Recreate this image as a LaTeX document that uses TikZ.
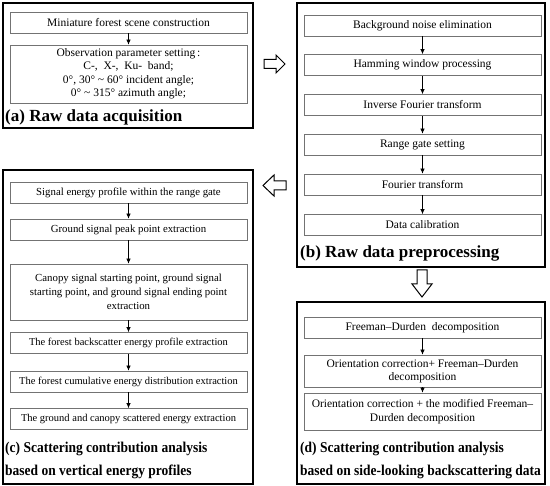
\documentclass[tikz,border=0pt]{standalone}
\usepackage{fontspec}
\setmainfont{Liberation Serif}
\usetikzlibrary{arrows.meta}
\newcommand{\squeeze}[1]{\scalebox{0.9}[1]{#1}}

\begin{document}
\begin{tikzpicture}[x=1pt,y=-1pt,
	panel/.style={draw=black, line width=1.3pt},
	procbox/.style={draw=black!55, line width=0.7pt, minimum width=237pt, minimum height=21pt,
		align=center, inner sep=1pt, font=\fontsize{11.5}{13.5}\selectfont},
	smallbox/.style={procbox, font=\fontsize{10.8}{14}\selectfont},
	tinybox/.style={procbox, font=\fontsize{10.5}{13.5}\selectfont},
	flow/.style={-{Latex[length=5pt,width=4.5pt]}, line width=0.7pt},
	paneltitle/.style={anchor=west, align=left, inner sep=0pt, font=\fontsize{17}{19}\selectfont\bfseries},
	paneltitletwo/.style={anchor=north west, align=left, inner sep=0pt, font=\fontsize{15}{23}\selectfont\bfseries},
	hollow/.style={draw=black, line width=1pt, fill=white, line join=miter}]
	%%%%% START %%%%%
	
	\useasboundingbox (0,0) rectangle (550,486);
	
	% (a)
	\draw[panel] (3,3) rectangle (253,128);
	\node[procbox] (acq1) at (128.5,22.5) {Miniature forest scene construction};
	\node[procbox, minimum height=58pt] (acq2) at (128.5,74) {Observation parameter setting\,:\\C-,\ \ X-,\ \ Ku-\ \ band;\\0°, 30° \textasciitilde{} 60° incident angle;\\0° \textasciitilde{} 315° azimuth angle;};
	\draw[flow] (acq1) -- (acq2);
	\node[paneltitle] (acqtitle) at (5,117) {(a) Raw data acquisition};
	
	% (b)
	\draw[panel] (297,3) rectangle (545,267);
	\node[procbox] (pre1) at (422.5,25.5) {Background noise elimination};
	\node[procbox] (pre2) at (422.5,65) {Hamming window processing};
	\node[procbox] (pre3) at (422.5,105) {Inverse Fourier transform};
	\node[procbox] (pre4) at (422.5,144.5) {Range gate setting};
	\node[procbox] (pre5) at (422.5,184.5) {Fourier transform};
	\node[procbox] (pre6) at (422.5,225) {Data calibration};
	\draw[flow] (pre1) -- (pre2);
	\draw[flow] (pre2) -- (pre3);
	\draw[flow] (pre3) -- (pre4);
	\draw[flow] (pre4) -- (pre5);
	\draw[flow] (pre5) -- (pre6);
	\node[paneltitle] (pretitle) at (300,253) {(b) Raw data preprocessing};
	
	% (c)
	\draw[panel] (3,170) rectangle (253,484);
	\node[smallbox] (vep1) at (128.5,192.5) {Signal energy profile within the range gate};
	\node[smallbox] (vep2) at (128.5,229.5) {Ground signal peak point extraction};
	\node[smallbox, minimum height=56pt] (vep3) at (128.5,292) {Canopy signal starting point, ground signal\\starting point, and ground signal ending point\\extraction};
	\node[tinybox] (vep4) at (128.5,343) {The forest backscatter energy profile extraction};
	\node[tinybox] (vep5) at (128.5,381.5) {The forest cumulative energy distribution extraction};
	\node[tinybox] (vep6) at (128.5,419) {The ground and canopy scattered energy extraction};
	\draw[flow] (vep1) -- (vep2);
	\draw[flow] (vep2) -- (vep3);
	\draw[flow] (vep3) -- (vep4);
	\draw[flow] (vep4) -- (vep5);
	\draw[flow] (vep5) -- (vep6);
	\node[paneltitletwo] (veptitle) at (5,442) {\squeeze{(c) Scattering contribution analysis}\\\squeeze{based on vertical energy profiles}};
	
	% (d)
	\draw[panel] (297,302) rectangle (545,484);
	\node[procbox] (slb1) at (422.5,327.5) {Freeman–Durden\ \ decomposition};
	\node[procbox, minimum height=32pt] (slb2) at (422.5,371) {Orientation correction+ Freeman–Durden\\decomposition};
	\node[procbox, minimum height=37pt] (slb3) at (422.5,411.5) {Orientation correction + the modified Freeman–\\Durden decomposition};
	\draw[flow] (slb1) -- (slb2);
	\draw[flow] (slb2) -- (slb3);
	\node[paneltitletwo] (slbtitle) at (300,442) {\squeeze{(d) Scattering contribution analysis}\\\squeeze{based on side-looking backscattering data}};
	
	% hollow arrows between the panels
	\draw[hollow] (264,59.5) -- (276,59.5) -- (276,55) -- (285,64) -- (276,73) -- (276,68.5) -- (264,68.5) -- cycle;
	\draw[hollow] (286,181) -- (274,181) -- (274,175) -- (263,185.5) -- (274,196) -- (274,190) -- (286,190) -- cycle;
	\draw[hollow] (417,270) -- (427,270) -- (427,284) -- (432,284) -- (422,297) -- (412,284) -- (417,284) -- cycle;
	
	%%%%% END %%%%%
\end{tikzpicture}
\end{document}
